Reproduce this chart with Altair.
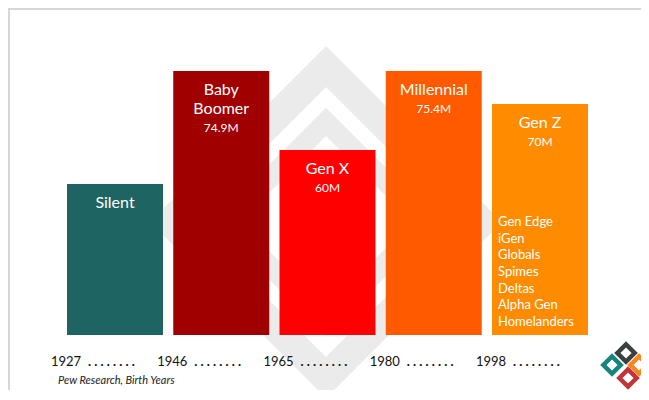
import altair as alt
import pandas as pd

# ---- data ----
generations = ["Silent", "Baby Boomer", "Gen X", "Millennial", "Gen Z"]
titles = ["Silent", "Baby\nBoomer", "Gen X", "Millennial", "Gen Z"]
populations = ["", "74.9M", "60M", "75.4M", "70M"]
bar_heights = [151, 264, 185, 264, 231]          # drawn bar heights (relative units)
start_years = ["1927", "1946", "1965", "1980", "1998"]
colors = ["#1e6462", "#a00000", "#ff0000", "#ff5a00", "#ff8c00"]
genz_names = ["Gen Edge", "iGen", "Globals", "Spimes", "Deltas", "Alpha Gen", "Homelanders"]
source_note = "Pew Research, Birth Years"
logo_colors = ["#16857e", "#3a3f3f", "#f7861c", "#c0343a"]
logo_x = [604, 618, 631, 620]
logo_y = [357, 345, 357, 370]

FONT = "Lato"
W, H = 633, 382

bars = pd.DataFrame({"gen": generations, "h": bar_heights, "year": start_years,
                     "dots": [". . . . . . . ."] * len(generations)})

rows = []
for g, t, p, h in zip(generations, titles, populations, bar_heights):
    lines = [(s, "title") for s in t.split("\n")]
    if p:
        lines.append((p, "value"))
    for i, (s, k) in enumerate(lines):
        rows.append({"gen": g, "txt": s, "kind": k, "y": h - 19 * (i + 1)})
labels = pd.DataFrame(rows)

names = pd.DataFrame({"gen": ["Gen Z"] * len(genz_names), "txt": genz_names,
                      "y": [113 - i * 100 / 6 for i in range(len(genz_names))]})

xs = alt.Scale(domain=generations, range=[59, 580], paddingInner=0.0965, paddingOuter=0)
ys = alt.Scale(domain=[327 - H, 327], zero=False, nice=False)
X = alt.X("gen:N", scale=xs, axis=None, sort=generations)
XL = alt.X("gen:N", scale=xs, axis=None, sort=generations, bandPosition=0)

one = pd.DataFrame({"a": [0]})

frame_top = alt.Chart(one).mark_rule(color="#d6d6d6", strokeWidth=2).encode(
    x=alt.value(0), x2=alt.value(W), y=alt.value(1))
frame_left = alt.Chart(one).mark_rule(color="#d6d6d6", strokeWidth=2).encode(
    x=alt.value(1), y=alt.value(0), y2=alt.value(H))

watermark_outer = alt.Chart(one).mark_point(
    shape="diamond", size=311 ** 2, filled=False, strokeWidth=29,
    color="#ebebeb", opacity=1, strokeJoin="miter").encode(
    x=alt.value(318), y=alt.value(214))
watermark_inner = alt.Chart(one).mark_point(
    shape="diamond", size=200 ** 2, filled=False, strokeWidth=20,
    color="#ebebeb", opacity=1, strokeJoin="miter").encode(
    x=alt.value(318), y=alt.value(214))

bar_layer = alt.Chart(bars).mark_bar().encode(
    x=X,
    y=alt.Y("h:Q", scale=ys, axis=None),
    y2=alt.datum(0),
    color=alt.Color("gen:N", scale=alt.Scale(domain=generations, range=colors), legend=None),
)

title_layer = alt.Chart(labels).mark_text(
    font=FONT, color="white", baseline="middle", align="center").encode(
    x=X,
    y=alt.Y("y:Q", scale=ys, axis=None),
    text="txt:N",
    size=alt.Size("kind:N", scale=alt.Scale(domain=["title", "value"], range=[16, 12]), legend=None),
)

names_layer = alt.Chart(names).mark_text(
    font=FONT, color="white", fontSize=13, align="left", baseline="middle", dx=6).encode(
    x=XL,
    y=alt.Y("y:Q", scale=ys, axis=None),
    text="txt:N",
)

year_layer = alt.Chart(bars).mark_text(
    font=FONT, color="#111111", fontSize=13, align="left", baseline="middle", dx=-16).encode(
    x=XL,
    y=alt.datum(-27),
    text="year:N",
)
dots_layer = alt.Chart(bars).mark_text(
    font=FONT, color="#111111", fontSize=13, fontWeight="bold", align="left",
    baseline="middle", dx=21).encode(
    x=XL,
    y=alt.datum(-27),
    text="dots:N",
)

source_layer = alt.Chart(one).mark_text(
    font=FONT, fontStyle="italic", fontSize=11, color="#222222", align="left",
    baseline="middle", text=source_note).encode(
    x=alt.value(50), y=alt.datum(-46))

logo_layers = [
    alt.Chart(one).mark_point(
        shape="diamond", size=300, filled=False, strokeWidth=4.5, opacity=1, color=c
    ).encode(x=alt.value(px), y=alt.value(py))
    for c, px, py in zip(logo_colors, logo_x, logo_y)
]

chart = alt.layer(
    frame_top, frame_left, watermark_outer, watermark_inner,
    bar_layer, title_layer, names_layer, year_layer, dots_layer, source_layer, *logo_layers,
).properties(
    width=W, height=H, padding=0, autosize=alt.AutoSizeParams(type="none"),
    background="white",
).configure_view(stroke=None)

chart.save("out.html", embed_options={"renderer": "svg", "actions": False})
